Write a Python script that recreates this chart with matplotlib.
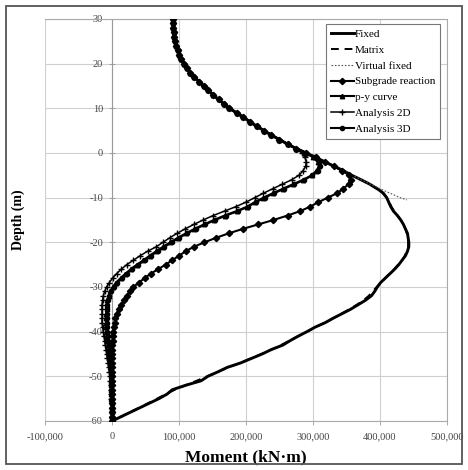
import numpy as np
import matplotlib
matplotlib.use("Agg")
import matplotlib.pyplot as plt
from matplotlib.patches import Rectangle

plt.rcParams['font.family'] = ['Liberation Serif', 'DejaVu Serif']
plt.rcParams['axes.unicode_minus'] = False

# ---- data (moment in kN*m, depth in m) ----
depth_top = list(range(30, 0, -1))          # 30 .. 1 (shared upper part)
moment_top = [91000, 91000, 91500, 92000, 93000, 94000, 96000, 98000, 100000, 103000,
              107000, 112000, 117000, 123000, 130000, 137000, 144000, 151000, 159000, 167000,
              175000, 186000, 196000, 206000, 216000, 227000, 238000, 250000, 262000, 275000]

depth_low = list(range(0, -61, -1))         # 0 .. -60

fixed_low = [290000, 304000, 318000, 332000, 346000, 358000, 372000, 385000, 396000, 405000,
             410000, 413000, 416000, 420000, 426000, 431000, 435000, 438000, 441000, 442000,
             443000, 443000, 441000, 438000, 433000, 428000, 422000, 415000, 408000, 401000,
             396000, 392000, 387000, 378000, 367000, 356000, 343000, 330000, 318000, 303000,
             291000, 278000, 266000, 255000, 238000, 224000, 208000, 192000, 172000, 158000,
             143000, 133000, 110000, 90000, 82000, 70000, 56000, 42000, 28000, 14000, 0]

matrix_low = [290000, 304000, 318000, 332000, 346000, 358000, 371000, 384000, 395000, 404000,
              410000, 414000, 417000, 421000, 426000, 431000, 435000, 438000, 440000, 442000,
              442000, 442000, 440000, 437000, 433000, 427000, 421000, 414000, 408000, 402000,
              395000, 389000, 383000, 375000, 365000, 354000, 342000, 330000, 317000, 304000,
              291000, 278000, 265000, 252000, 238000, 223000, 207000, 191000, 174000, 158000,
              142000, 126000, 110000, 94000, 80000, 67000, 54000, 41000, 27000, 14000, 0]

vf_depth = [0, -2, -4, -6, -8, -10, -10.5]
vf_moment = [290000, 318000, 346000, 372000, 400000, 430000, 440000]

subgrade_low = [290000, 304000, 318000, 331000, 344000, 354000, 357000, 353000, 345000, 336000,
                322000, 308000, 296000, 281000, 262000, 241000, 218000, 195000, 174000, 155000,
                138000, 122000, 110000, 100000, 90000, 80000, 69000, 58000, 49000, 40000,
                32000, 27000, 22000, 18000, 14000, 10000, 7000, 5000, 4000, 3000,
                2000, 1000, 1000, 0, 0, 0, 0, 0, 0, 0,
                0, 0, 0, 0, 0, 0, 0, 0, 0, 0, 0]

py_low = [290000, 300000, 307000, 309000, 305000, 298000, 285000, 270000, 255000, 240000,
          226000, 213000, 202000, 186000, 168000, 152000, 137000, 123000, 110000, 98000,
          87000, 76000, 66000, 56000, 47000, 37000, 28000, 20000, 13000, 6000,
          1000, -3000, -5000, -7000, -8000, -8000, -9000, -9000, -9000, -9000,
          -8000, -8000, -7000, -6000, -5000, -4000, -4000, -3000, -3000, -2000,
          -2000, -1000, -1000, -1000, -1000, -1000, 0, 0, 0, 0, 0]

a2d_low = [283000, 288000, 290000, 289000, 285000, 279000, 268000, 254000, 240000, 226000,
           213000, 200000, 185000, 168000, 151000, 136000, 122000, 109000, 97000, 86000,
           76000, 66000, 53000, 42000, 32000, 22000, 14000, 7000, 1000, -4000,
           -8000, -11000, -13000, -14000, -15000, -15000, -15000, -15000, -15000, -14000,
           -13000, -12000, -11000, -10000, -9000, -8000, -7000, -6000, -5000, -4000,
           -3000, -3000, -2000, -2000, -1000, -1000, 0, 0, 0, 0, 0]

a3d_low = [290000, 301000, 309000, 311000, 307000, 299000, 287000, 272000, 257000, 242000,
           228000, 215000, 203000, 188000, 170000, 154000, 139000, 125000, 112000, 100000,
           89000, 78000, 68000, 58000, 49000, 39000, 30000, 22000, 15000, 8000,
           3000, -1000, -4000, -6000, -7000, -7000, -8000, -8000, -8000, -7000,
           -7000, -6000, -6000, -5000, -4000, -4000, -3000, -3000, -2000, -2000,
           -1000, -1000, -1000, -1000, 0, 0, 0, 0, 0, 0, 0]

x_ticks = [-100000, 0, 100000, 200000, 300000, 400000, 500000]
x_ticklabels = ["-100,000", "0", "100,000", "200,000", "300,000", "400,000", "500,000"]
y_ticks = [30, 20, 10, 0, -10, -20, -30, -40, -50, -60]

# ---- figure ----
W, H = 468, 470
fig = plt.figure(figsize=(W/100, H/100), dpi=100)
ax = fig.add_axes([45/W, 1-421/H, (447-45)/W, (421-19)/H])

fig.patches.append(Rectangle((6/W, 6/H), (462-6)/W, (464-6)/H,
                             transform=fig.transFigure, fill=False,
                             edgecolor='#555555', linewidth=1.3))

def full(low):
    return moment_top + low, depth_top + depth_low

x, y = full(fixed_low)
ax.plot(x, y, color='black', lw=2.1, label='Fixed', zorder=3)
x, y = full(matrix_low)
ax.plot(x, y, color='black', lw=1.4, ls=(0, (4, 3)), label='Matrix', zorder=3)
ax.plot(moment_top + vf_moment, depth_top + vf_depth, color='#555555', lw=0.8,
        ls=(0, (1.5, 1.5)), label='Virtual fixed', zorder=3)
x, y = full(subgrade_low)
ax.plot(x, y, color='black', lw=1.5, marker='D', ms=3.2, label='Subgrade reaction', zorder=4)
x, y = full(py_low)
ax.plot(x, y, color='black', lw=1.5, marker='^', ms=3.2, label='p-y curve', zorder=4)
x, y = full(a2d_low)
ax.plot(x, y, color='black', lw=1.1, marker='+', ms=4.5, mew=1.0, label='Analysis 2D', zorder=4)
x, y = full(a3d_low)
ax.plot(x, y, color='black', lw=1.5, marker='o', ms=3.0, label='Analysis 3D', zorder=4)

ax.set_xlim(-100000, 500000)
ax.set_ylim(-60, 30)
ax.set_xticks(x_ticks)
ax.set_xticklabels(x_ticklabels)
ax.set_yticks(y_ticks)
ax.grid(True, color='#d0d0d0', lw=0.8)
ax.set_axisbelow(True)
for s in ax.spines.values():
    s.set_color('#aaaaaa')
    s.set_linewidth(0.8)
# vertical axis crosses at x = 0 (Excel style)
ax.spines['left'].set_position(('data', 0))
ax.spines['left'].set_color('#999999')
ax.tick_params(axis='both', labelsize=7.5, labelcolor='#444444', color='#999999',
               width=0.6)
ax.tick_params(axis='y', direction='inout', length=5, pad=4)
ax.tick_params(axis='x', direction='out', length=3, pad=5)

ax.set_xlabel('Moment (kN·m)', fontsize=12.5, fontweight='bold', labelpad=6)
ax.set_ylabel('Depth (m)', fontsize=10, fontweight='bold')
ax.yaxis.set_label_coords((25-45)/(447-45), 0.5)

leg = ax.legend(loc='upper right', fontsize=8, frameon=True, fancybox=False,
                edgecolor='#777777', framealpha=1, handlelength=2.0, handletextpad=0.1,
                labelspacing=0.55, borderpad=0.45, borderaxespad=0,
                bbox_to_anchor=((440-45)/402, (421-24)/402))
leg.get_frame().set_linewidth(0.8)

fig.savefig('out.png', dpi=100)
